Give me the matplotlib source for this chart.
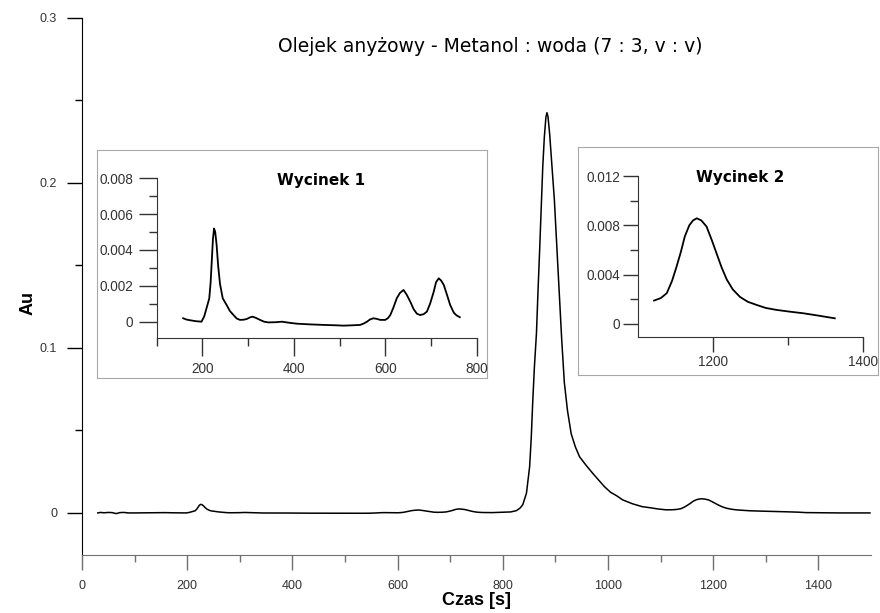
import matplotlib
matplotlib.use("Agg")
import matplotlib.pyplot as plt
import numpy as np

# chromatogram: time [s], absorbance [Au]
czas = [30, 35, 42, 50, 57, 65, 72, 80, 88, 100,
        158, 165, 173, 185, 198, 204, 209, 215, 218, 220.5,
        223, 225.5, 228, 231, 234.5, 238.5, 244.5, 253, 260, 268,
        275, 282, 290, 297, 304, 310, 318, 326, 335, 344,
        360, 374, 390, 406, 435, 465, 490, 509, 530, 545,
        553, 560, 567, 574, 581, 589, 600, 606, 611, 618,
        625, 632, 640, 647, 655, 662, 669, 676, 684, 691,
        698, 706, 711, 717, 722, 728, 735, 742, 750, 756,
        763, 780, 800, 815, 826, 833, 838, 845, 851, 854,
        857, 860, 864, 867, 870, 873, 876, 879, 882, 884,
        886, 889, 893, 898, 903, 908, 912, 917, 923, 930,
        938, 946, 958, 971, 982, 993, 1005, 1016, 1028, 1047,
        1065, 1079, 1095, 1110, 1121, 1130, 1138, 1145, 1151, 1157,
        1162, 1168, 1173, 1178, 1184, 1191, 1198, 1204.5, 1211, 1218,
        1226, 1235.5, 1246, 1258, 1270, 1284.5, 1302, 1320, 1340, 1362,
        1376, 1400, 1440, 1498]
au = [0.0, 0.0003, 0.0001, 0.0003, 0.0002, -0.0004, 0.0002, 0.0003, 0.0, 0.0,
      0.00019, 0.00012, 0.00008, 0.00003, 0.0, 0.0003, 0.00075, 0.0013, 0.0022, 0.0034,
      0.0046, 0.0052, 0.0050, 0.0043, 0.0031, 0.0021, 0.0013, 0.00093, 0.0006, 0.00037,
      0.00018, 0.0001, 0.00011, 0.00015, 0.00024, 0.00028, 0.0002, 0.0001, 0.0, -0.00004,
      -0.00003, 0.0, -0.00006, -0.00011, -0.00015, -0.00018, -0.0002, -0.00022, -0.0002, -0.00018,
      -0.0001, 0.0, 0.00013, 0.00019, 0.00016, 0.0001, 0.0001, 0.0002, 0.00037, 0.0008,
      0.0013, 0.0016, 0.00177, 0.0015, 0.0011, 0.0007, 0.00045, 0.00037, 0.00042, 0.00056,
      0.001, 0.00167, 0.0022, 0.00242, 0.0023, 0.00205, 0.0015, 0.00093, 0.0005, 0.00035,
      0.00025, 0.0002, 0.0004, 0.0006, 0.0014, 0.003, 0.005, 0.012, 0.028, 0.045,
      0.068, 0.088, 0.109, 0.135, 0.159, 0.185, 0.210, 0.228, 0.240, 0.2426,
      0.240, 0.230, 0.212, 0.190, 0.160, 0.129, 0.105, 0.079, 0.062, 0.048,
      0.040, 0.034, 0.029, 0.024, 0.020, 0.016, 0.0125, 0.0105, 0.0079, 0.0055,
      0.0038, 0.0032, 0.0024, 0.0019, 0.0019, 0.0021, 0.0025, 0.0035, 0.00465, 0.0059,
      0.0071, 0.0080, 0.0084, 0.00857, 0.0084, 0.0079, 0.0068, 0.0057, 0.0046, 0.0036,
      0.0028, 0.0022, 0.0018, 0.00154, 0.0013, 0.00114, 0.001, 0.00087, 0.00068, 0.00046,
      0.0002, 0.0001, 0.0, 0.0]

czas = np.array(czas)
au = np.array(au)

W, H = 880, 613
TICK_FONT = "Liberation Sans"


def rect(l, t, r, b):
    # pixel box -> figure fraction
    return [l / W, 1 - b / H, (r - l) / W, (b - t) / H]


def style_axes(ax, maj, minr, pad, size):
    for s in ["top", "right"]:
        ax.spines[s].set_visible(False)
    ax.tick_params(which="major", direction="out", length=maj, width=1, pad=pad,
                   labelsize=size, labelcolor="#333333")
    ax.tick_params(which="minor", direction="out", length=minr, width=1)
    for lab in ax.get_xticklabels() + ax.get_yticklabels():
        lab.set_fontfamily(TICK_FONT)


fig = plt.figure(figsize=(8.8, 6.13), dpi=100)

# main chart
ax = fig.add_axes(rect(82, 18, 871, 555))
ax.plot(czas, au, color="black", linewidth=1.1)
ax.set_xlim(0, 1500)
ax.set_ylim(-0.0255, 0.3)
ax.set_xticks(range(0, 1401, 200))
ax.set_xticks(range(100, 1301, 200), minor=True)
ax.set_yticks([0, 0.1, 0.2, 0.3])
ax.set_yticklabels(["0", "0.1", "0.2", "0.3"])
ax.set_yticks([0.05, 0.15, 0.25], minor=True)
style_axes(ax, 11, 5, 7, 9)
ax.spines["bottom"].set_color("#707070")
ax.tick_params(axis="x", which="both", color="#707070")
ax.set_xlabel("Czas [s]", fontfamily=TICK_FONT, fontweight="bold", fontsize=13, labelpad=0)
ax.set_ylabel("Au", fontfamily=TICK_FONT, fontweight="bold", fontsize=13)
ax.yaxis.set_label_coords(-0.058, 0.47)
fig.text(490 / W, 1 - 47 / H, "Olejek anyżowy - Metanol : woda (7 : 3, v : v)",
         ha="center", va="center", fontsize=13.5, fontfamily="DejaVu Sans")

# frames round the two insets
for box in [(97, 150, 487, 378), (578, 147, 878, 375)]:
    fr = fig.add_axes(rect(*box))
    fr.set_xticks([])
    fr.set_yticks([])
    for s in fr.spines.values():
        s.set_color("#a8a8a8")

# inset 1
m1 = (czas >= 155) & (czas <= 765)
a1 = fig.add_axes(rect(156.7, 178.3, 476.7, 338))
a1.plot(czas[m1], au[m1], color="black", linewidth=1.3)
a1.set_xlim(100, 800)
a1.set_ylim(-0.00091, 0.008)
a1.set_xticks([200, 400, 600, 800])
a1.set_xticks([100, 300, 500, 700], minor=True)
a1.set_yticks([0, 0.002, 0.004, 0.006, 0.008])
a1.set_yticklabels(["0", "0.002", "0.004", "0.006", "0.008"])
a1.set_yticks([0.001, 0.003, 0.005, 0.007], minor=True)
style_axes(a1, 13, 6, 4, 9.8)
for s in ["left", "bottom"]:
    a1.spines[s].set_color("#333333")
a1.tick_params(which="both", color="#333333")
a1.patch.set_alpha(0)
fig.text(321 / W, 1 - 181 / H, "Wycinek 1", ha="center", va="center",
         fontsize=11, fontweight="bold", fontfamily="DejaVu Sans")

# inset 2
m2 = (czas >= 1120) & (czas <= 1365)
a2 = fig.add_axes(rect(638.3, 176, 863.3, 336.7))
a2.plot(czas[m2], au[m2], color="black", linewidth=1.3)
a2.set_xlim(1100, 1400)
a2.set_ylim(-0.00103, 0.012)
a2.set_xticks([1200, 1400])
a2.set_xticks([1300], minor=True)
a2.set_yticks([0, 0.004, 0.008, 0.012])
a2.set_yticklabels(["0", "0.004", "0.008", "0.012"])
a2.set_yticks([0.002, 0.006, 0.010], minor=True)
style_axes(a2, 11, 6, 2, 9.8)
for s in ["left", "bottom"]:
    a2.spines[s].set_color("#333333")
a2.tick_params(which="both", color="#333333")
a2.patch.set_alpha(0)
fig.text(740 / W, 1 - 177 / H, "Wycinek 2", ha="center", va="center",
         fontsize=11, fontweight="bold", fontfamily="DejaVu Sans")

fig.savefig("out.png", dpi=100)
